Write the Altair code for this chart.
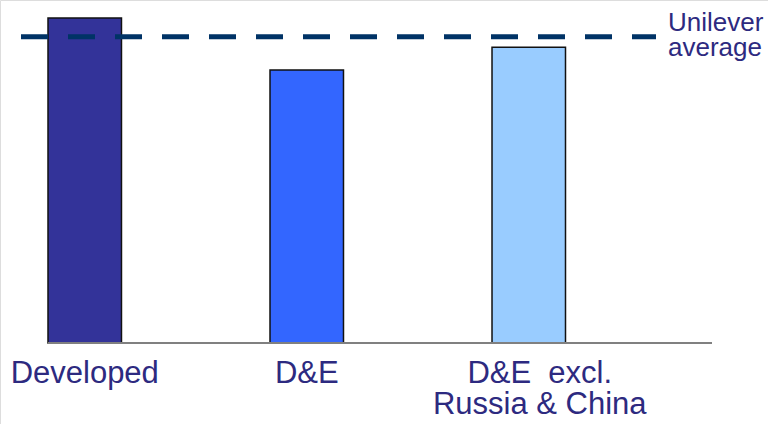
import altair as alt
import pandas as pd

# Bar values (index, baseline = 0) and the company-wide average
categories = ["Developed", "D&E", "D&E excl. Russia & China"]
values = [100, 84, 91]
average_value = 94.2
bar_colors = ["#333399", "#3366FF", "#99CCFF"]
label_text = ["Developed", "D&E", "D&E\u00a0 excl.\nRussia & China"]
average_label = "Unilever\naverage"

TEXT_COLOR = "#2D2A80"
FONT = "Liberation Sans"

df = pd.DataFrame({"cat": categories, "value": values, "label": label_text})

x_scale = alt.Scale(domain=categories, range=[48, 565.5], paddingInner=0.669, paddingOuter=0)
y_scale = alt.Scale(domain=[0, 100], range=[343, 18], nice=False, zero=True)

base = alt.Chart(df)

bars = base.mark_bar(stroke="#111111", strokeWidth=1.5).encode(
    x=alt.X("cat:N", scale=x_scale, axis=None, sort=categories),
    y=alt.Y("value:Q", scale=y_scale, axis=None),
    color=alt.Color("cat:N", scale=alt.Scale(domain=categories, range=bar_colors), legend=None),
)

baseline = alt.Chart(pd.DataFrame({"v": [0]})).mark_rule(color="#808080", strokeWidth=2).encode(
    y=alt.Y("v:Q", scale=y_scale, axis=None),
    x=alt.value(48),
    x2=alt.value(712),
)

avg_rule = alt.Chart(pd.DataFrame({"v": [average_value]})).mark_rule(
    color="#003366", strokeWidth=5, strokeDash=[27, 20]
).encode(
    y=alt.Y("v:Q", scale=y_scale, axis=None),
    x=alt.value(21),
    x2=alt.value(656),
)

avg_text = alt.Chart(pd.DataFrame({"t": [average_label]})).mark_text(
    align="left", baseline="alphabetic", font=FONT, fontSize=26, lineHeight=25,
    lineBreak="\n", color=TEXT_COLOR
).encode(
    text="t:N",
    x=alt.value(668),
    y=alt.value(31),
)

label_style = dict(align="center", baseline="alphabetic", font=FONT, fontSize=31,
                   lineHeight=31, lineBreak="\n", color=TEXT_COLOR)

labels_main = base.transform_filter(
    alt.datum.cat != categories[2]
).mark_text(**label_style).encode(
    x=alt.X("cat:N", scale=x_scale, axis=None, sort=categories),
    y=alt.value(383),
    text="label:N",
)

labels_last = base.transform_filter(
    alt.datum.cat == categories[2]
).mark_text(dx=11, **label_style).encode(
    x=alt.X("cat:N", scale=x_scale, axis=None, sort=categories),
    y=alt.value(383),
    text="label:N",
)

chart = alt.layer(bars, baseline, avg_rule, avg_text, labels_main, labels_last).properties(
    width=768, height=424, padding=0, autosize=alt.AutoSizeParams(type="none")
).configure_view(stroke=None).configure(background="white")

chart.save("out.html", embed_options={"renderer": "svg", "actions": False})
